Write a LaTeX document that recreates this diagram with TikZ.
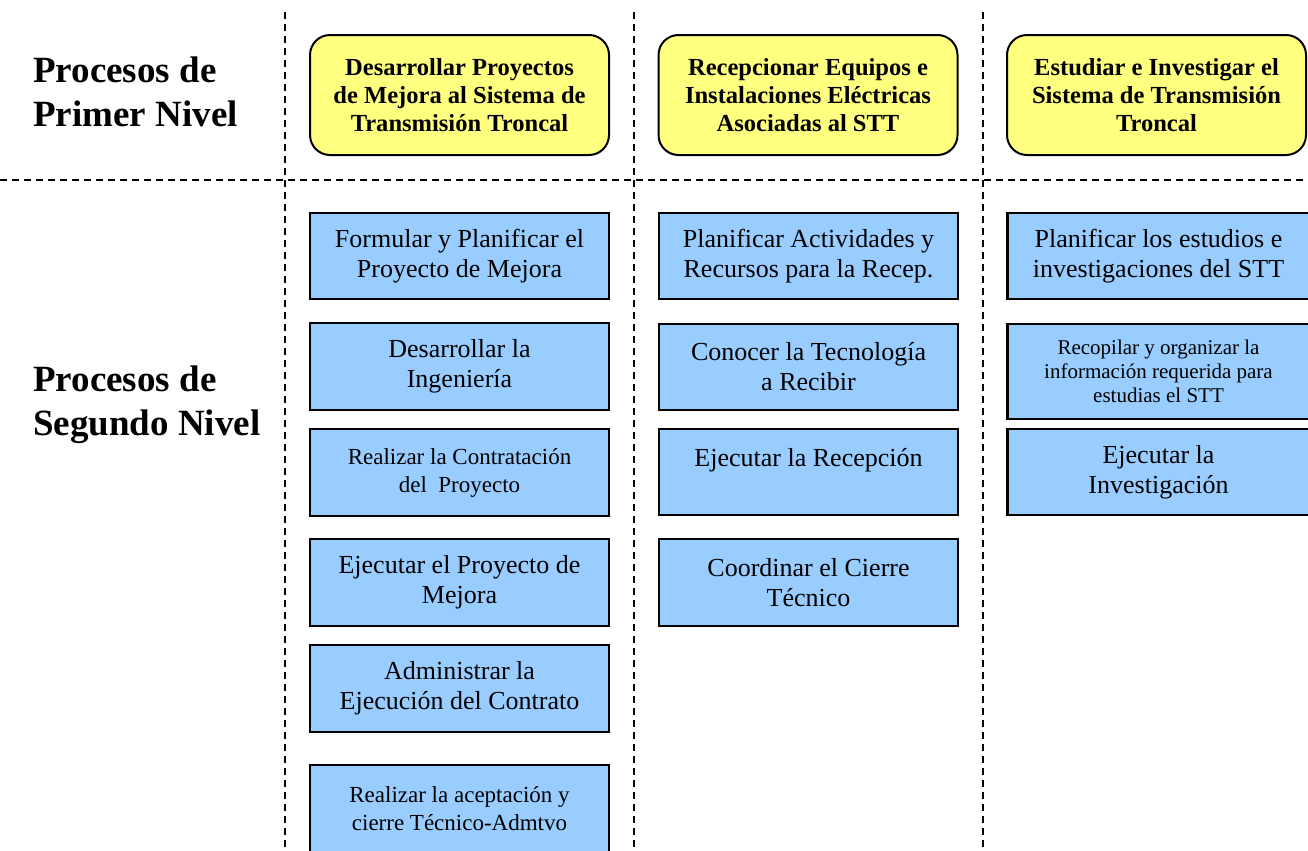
\documentclass[tikz,border=0pt]{standalone}
\usepackage{fontspec}
\setmainfont{Liberation Serif}
\definecolor{levelone}{RGB}{255,255,128}
\definecolor{leveltwo}{RGB}{153,204,255}
\begin{document}
\begin{tikzpicture}[x=0.75pt,y=-0.75pt,
  guide/.style={line width=1.4pt, dash pattern=on 5.25pt off 3.75pt},
  rowlabel/.style={anchor=west, inner sep=0pt, align=left,
    font=\bfseries\fontsize{27.75}{33}\selectfont},
  topbox/.style={draw, line width=1.5pt, rounded corners=15pt, fill=levelone,
    minimum width=224.25pt, minimum height=90pt, inner sep=0pt, align=center,
    font=\bfseries\fontsize{18.4}{21}\selectfont},
  subbox/.style={draw, line width=1.6pt, fill=leveltwo,
    minimum width=224.25pt, inner sep=0pt, align=center,
    font=\fontsize{19.5}{22.5}\selectfont},
  widebox/.style={subbox, minimum width=226.5pt},
  mid/.style={font=\fontsize{17.25}{21}\selectfont},
  small/.style={font=\fontsize{15.75}{18}\selectfont}]
\useasboundingbox (0,0) rectangle (1308,850);

% column and row separators
\coordinate (v1t) at (285,12);  \coordinate (v1b) at (285,856);
\coordinate (v2t) at (634,12);  \coordinate (v2b) at (634,856);
\coordinate (v3t) at (983,12);  \coordinate (v3b) at (983,856);
\coordinate (hl) at (0,180);    \coordinate (hr) at (1314,180);
\draw[guide] (v1t) -- (v1b);
\draw[guide] (v2t) -- (v2b);
\draw[guide] (v3t) -- (v3b);
\draw[guide] (hl) -- (hr);

% row titles
\node[rowlabel] (lvl1) at (33,92) {Procesos de\\Primer Nivel};
\node[rowlabel] (lvl2) at (33,405) {Procesos de\\Segundo Nivel};

% first-level processes
\node[topbox] (p1) at (459.5,95) {Desarrollar Proyectos\\de Mejora al Sistema de\\Transmisión Troncal};
\node[topbox] (p2) at (808,95) {Recepcionar Equipos e\\Instalaciones Eléctricas\\Asociadas al STT};
\node[topbox] (p3) at (1156.5,95) {Estudiar e Investigar el\\Sistema de Transmisión\\Troncal};

% second-level processes, column 1
\node[subbox, minimum height=64.5pt] (a1) at (459.5,256) {Formular y Planificar el\\Proyecto de Mejora};
\node[subbox, minimum height=65.25pt] (a2) at (459.5,366.5) {Desarrollar la\\Ingeniería};
\node[subbox, mid, minimum height=65.25pt] (a3) at (459.5,472.5) {Realizar la Contratación\\del\ \ Proyecto};
\node[subbox, minimum height=65.25pt] (a4) at (459.5,582.5) {Ejecutar el Proyecto de\\Mejora};
\node[subbox, minimum height=65.25pt] (a5) at (459.5,688.5) {Administrar la\\Ejecución del Contrato};
\node[subbox, mid, minimum height=66pt] (a6) at (459.5,809) {Realizar la aceptación y\\cierre Técnico-Admtvo};

% second-level processes, column 2
\node[subbox, minimum height=64.5pt] (b1) at (808.5,256) {Planificar Actividades y\\Recursos para la Recep.};
\node[subbox, minimum height=64.5pt] (b2) at (808.5,367) {Conocer la Tecnología\\a Recibir};
\node[subbox, minimum height=64.5pt] (b3) at (808.5,472) {Ejecutar la Recepción\\\mbox{}};
\node[subbox, minimum height=65.25pt] (b4) at (808.5,582.5) {Coordinar el Cierre\\Técnico};

% second-level processes, column 3
\node[widebox, minimum height=64.5pt] (c1) at (1158.5,256) {Planificar los estudios e\\investigaciones del STT};
\node[widebox, small, minimum height=71.25pt] (c2) at (1158.5,371.5) {Recopilar y organizar la\\información requerida para\\estudias el STT};
\node[widebox, minimum height=64.5pt] (c3) at (1158.5,472) {Ejecutar la\\Investigación};
\end{tikzpicture}
\end{document}
